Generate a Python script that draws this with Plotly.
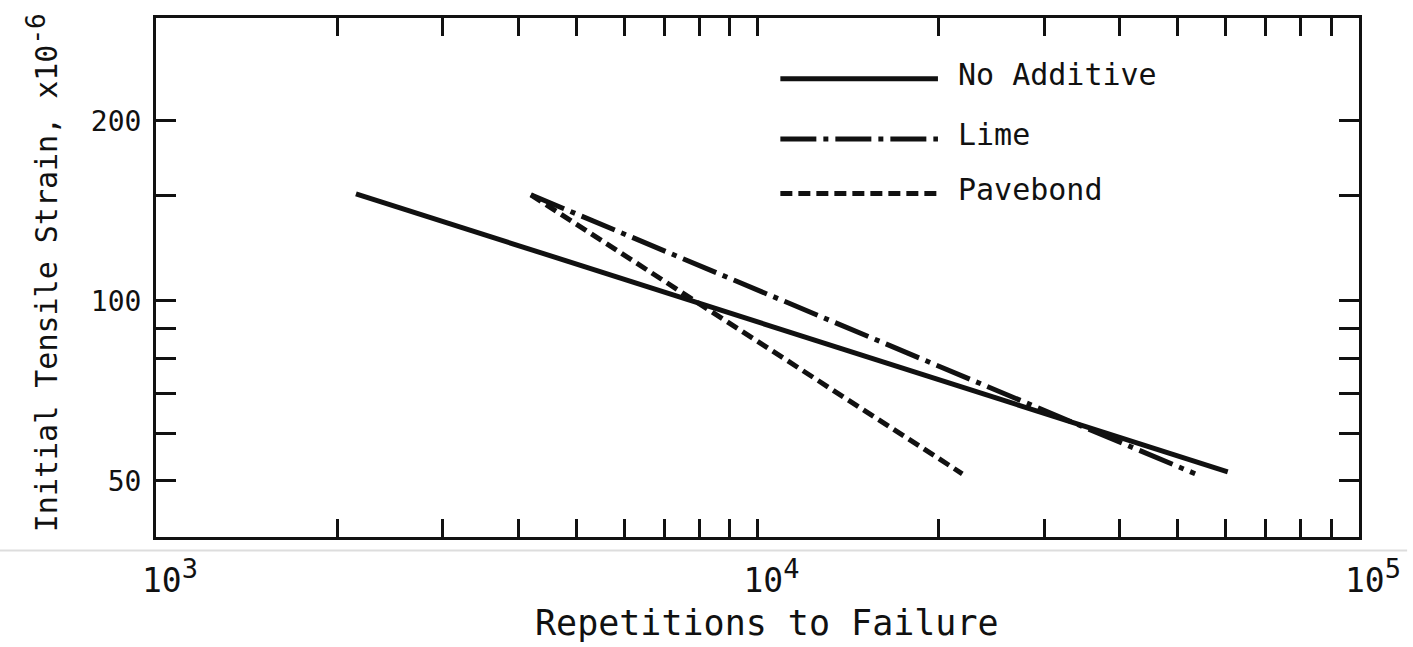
import math
import plotly.graph_objects as go

# Fatigue lines: repetitions to failure vs initial tensile strain (x10^-6)
no_additive_reps = [2150, 60500]
no_additive_strain = [151.0, 51.8]

lime_reps = [4200, 53400]
lime_strain = [150.4, 51.4]

pavebond_reps = [4200, 21900]
pavebond_strain = [150.4, 51.4]

series_names = ["No Additive", "Lime", "Pavebond"]

# Axis ticks: labelled decades plus unlabelled intermediate ticks
SUP = "<sup><span style='font-size:27px'>{}</span></sup>"
x_major_vals = [1000, 10000, 100000]
x_major_text = ["10" + SUP.format(3), "10" + SUP.format(4), "10" + SUP.format(5)]
x_minor_vals = [2000, 3000, 4000, 5000, 6000, 7000, 8000, 9000,
                20000, 30000, 40000, 50000, 60000, 70000, 80000, 90000]
y_major_vals = [50, 100, 200]
y_major_text = ["50", "100", "200"]
y_minor_vals = [60, 70, 80, 90, 150]

FONT = "DejaVu Sans Mono"
INK = "#111111"
LIME_DASH = "36px,7px,5px,7px"
PAVEBOND_DASH = "12px,6px"

fig = go.Figure()

fig.add_trace(go.Scatter(
    x=no_additive_reps, y=no_additive_strain, mode="lines",
    name=series_names[0], line=dict(color=INK, width=5),
))
fig.add_trace(go.Scatter(
    x=lime_reps, y=lime_strain, mode="lines",
    name=series_names[1], line=dict(color=INK, width=5, dash=LIME_DASH),
))
fig.add_trace(go.Scatter(
    x=pavebond_reps, y=pavebond_strain, mode="lines",
    name=series_names[2], line=dict(color=INK, width=5, dash=PAVEBOND_DASH),
))

# Hand-drawn key inside the frame: long line samples with labels
key_rows = [
    (series_names[0], 0.883, "solid"),
    (series_names[1], 0.767, LIME_DASH),
    (series_names[2], 0.662, PAVEBOND_DASH),
]
for label, yp, dash in key_rows:
    fig.add_shape(type="line", xref="paper", yref="paper",
                  x0=0.519, x1=0.650, y0=yp, y1=yp,
                  line=dict(color=INK, width=5, dash=dash))
    fig.add_annotation(text=label, xref="paper", yref="paper",
                       x=0.665, y=yp + 0.008, xanchor="left", yanchor="middle",
                       showarrow=False, font=dict(family=FONT, size=30, color=INK))

# Axis titles
fig.add_annotation(text="Repetitions to Failure", xref="paper", yref="paper",
                   x=0.508, y=-0.165, xanchor="center", yanchor="middle",
                   showarrow=False, font=dict(family=FONT, size=35, color=INK))
fig.add_annotation(text="Initial Tensile Strain, x10<sup><span style='font-size:26px'>-6</span></sup>",
                   xref="paper", yref="paper", x=-0.094, y=0.51,
                   xanchor="center", yanchor="middle", textangle=-90,
                   showarrow=False, font=dict(family=FONT, size=30, color=INK))

# Faint page edge running under the frame
fig.add_shape(type="line", xref="paper", yref="paper",
              x0=-0.13, x1=1.04, y0=-0.026, y1=-0.026,
              line=dict(color="#dddddd", width=2))

axis_common = dict(
    showline=True, linecolor=INK, linewidth=3, mirror="ticks",
    ticks="inside", tickcolor=INK, tickwidth=3,
    showgrid=False, zeroline=False,
)

fig.update_xaxes(
    type="log", range=[3, 5],
    tickmode="array", tickvals=x_major_vals, ticktext=x_major_text,
    ticklen=18, ticklabelstandoff=12, ticklabelshift=14,
    tickfont=dict(family=FONT, size=33, color=INK),
    minor=dict(tickmode="array", tickvals=x_minor_vals, ticks="inside",
               ticklen=18, tickwidth=3, tickcolor=INK, showgrid=False),
    **axis_common,
)
fig.update_yaxes(
    type="log", range=[math.log10(40.3), math.log10(297)],
    tickmode="array", tickvals=y_major_vals, ticktext=y_major_text,
    ticklen=20, ticklabelstandoff=6,
    tickfont=dict(family=FONT, size=28, color=INK),
    minor=dict(tickmode="array", tickvals=y_minor_vals, ticks="inside",
               ticklen=20, tickwidth=3, tickcolor=INK, showgrid=False),
    **axis_common,
)

fig.update_layout(
    width=1413, height=647,
    margin=dict(l=156, r=45, t=18, b=110),
    paper_bgcolor="white", plot_bgcolor="white",
    showlegend=False,
)

fig.write_html("out.html")
